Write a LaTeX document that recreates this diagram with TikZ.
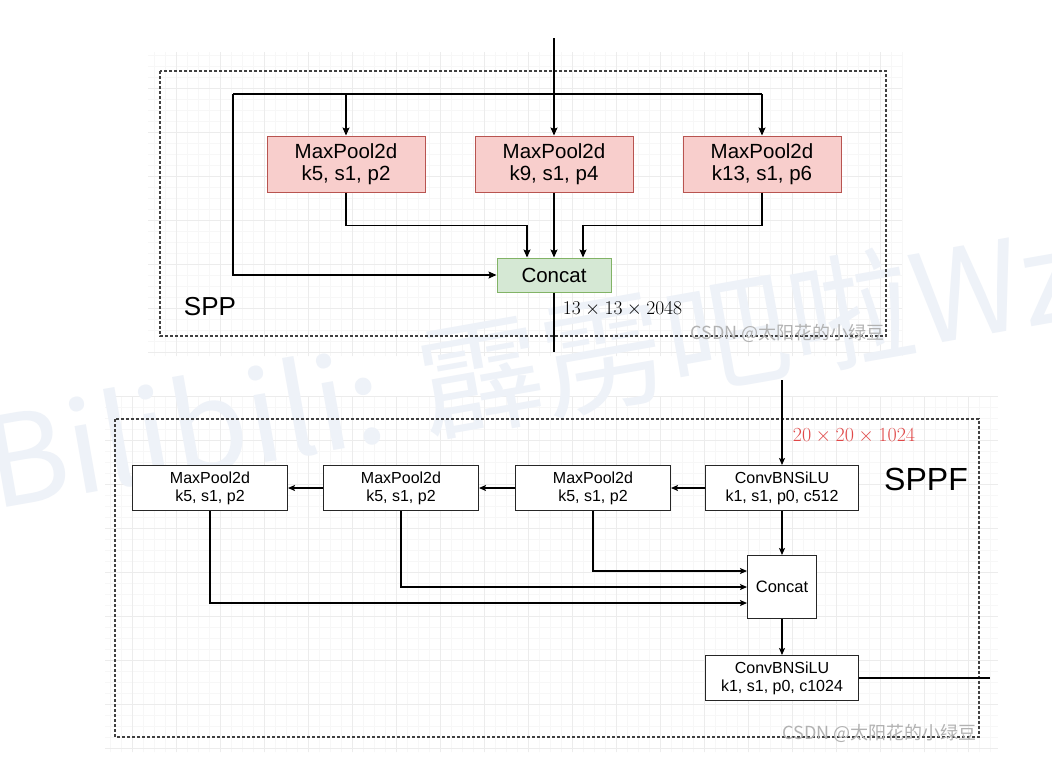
\RequirePackage{fix-cm}
\documentclass[tikz,border=0pt]{standalone}
\usepackage{fontspec}
\setmainfont{Liberation Sans}
\newfontfamily\cjk{Noto Sans CJK SC}
\usepackage{amsmath}
\usepackage{tikz}
\usetikzlibrary{arrows.meta}

\definecolor{poolfill}{HTML}{F8CECC}
\definecolor{poolline}{HTML}{B85450}
\definecolor{catfill}{HTML}{D5E8D4}
\definecolor{catline}{HTML}{82B366}
\definecolor{dimred}{HTML}{E04848}
\definecolor{bilimark}{HTML}{EEF2F8}

\begin{document}
\begin{tikzpicture}[x=1pt,y=-1pt,line width=1.1pt,
  >={Stealth[length=8pt,width=7pt,inset=1.5pt]},
  box/.style={draw=black!85,line width=1pt,fill=white,align=center,inner sep=0pt},
  pool/.style={box,fill=poolfill,draw=poolline,minimum width=158pt,minimum height=56pt,font=\fontsize{20.5}{22}\selectfont},
  fbox/.style={box,minimum width=155pt,minimum height=45pt,font=\fontsize{16}{18}\selectfont},
  frame/.style={draw=black!75,line width=1.2pt,dash pattern=on 3pt off 2pt}]
\useasboundingbox (0,0) rectangle (1052,764);
\fill[white] (0,0) rectangle (1052,764);

% grid
\draw[gray!6,line width=0.5pt,step=11pt] (148,52) grid (902,356);
\draw[gray!15,line width=0.6pt,step=44pt] (148,52) grid (902,356);
\draw[gray!6,line width=0.5pt,step=11pt] (105,396) grid (998,752);
\draw[gray!15,line width=0.6pt,step=44pt] (105,396) grid (998,752);

% watermark
\node[rotate=10,anchor=base west,text=bilimark,inner sep=0pt,
  font=\cjk\fontsize{125}{125}\selectfont] (bili) at (-6,510) {Bilibili: 霹雳吧啦Wz};

%%%% SPP
\draw[frame] (160,71) rectangle (886,336);
\node[pool] (pool5) at (346,164) {MaxPool2d\\k5, s1, p2};
\node[pool] (pool9) at (554,164) {MaxPool2d\\k9, s1, p4};
\node[pool] (pool13) at (762,164) {MaxPool2d\\k13, s1, p6};
\node[box,fill=catfill,draw=catline,minimum width=114pt,minimum height=34pt,
  font=\fontsize{20.5}{22}\selectfont] (sppcat) at (554,275) {Concat};
\coordinate (sppin) at (554,38);
\coordinate (sppout) at (554,352);
\coordinate (split) at (233,94);

\draw[->] (sppin) -- (pool9.north);
\draw (split) -- (pool13.north |- split);
\draw[->] (pool5.north |- split) -- (pool5.north);
\draw[->] (pool13.north |- split) -- (pool13.north);
\draw[->] (split) |- (sppcat.west);
\draw[->] (pool5.south) -- ++(0,33) -| ([xshift=-27pt]sppcat.north);
\draw[->] (pool9.south) -- (sppcat.north);
\draw[->] (pool13.south) -- ++(0,33) -| ([xshift=29pt]sppcat.north);
\draw (sppcat.south) -- (sppout);

\node[font=\fontsize{26}{28}\selectfont] (spptitle) at (210,307) {SPP};
\node[anchor=west,font=\fontsize{19.5}{22}\selectfont] (sppdim) at (559,309) {$13\times13\times2048$};
\node[anchor=east,text=gray!60,inner sep=0pt,font=\cjk\fontsize{18}{18}\selectfont] (csdna) at (885,333) {CSDN @太阳花的小绿豆};

%%%% SPPF
\draw[frame] (115,419) rectangle (979,737);
\node[fbox,minimum width=153pt] (conv1) at (782,488) {ConvBNSiLU\\k1, s1, p0, c512};
\node[fbox] (poola) at (593,488) {MaxPool2d\\k5, s1, p2};
\node[fbox] (poolb) at (401,488) {MaxPool2d\\k5, s1, p2};
\node[fbox] (poolc) at (210,488) {MaxPool2d\\k5, s1, p2};
\node[box,minimum width=69pt,minimum height=63pt,font=\fontsize{16.5}{18}\selectfont] (catf) at (782,587) {Concat};
\node[fbox,minimum width=153pt] (conv2) at (782,678) {ConvBNSiLU\\k1, s1, p0, c1024};
\coordinate (sppfin) at (782,380);
\coordinate (sppfout) at (990,678);

\begin{scope}[>={Stealth[length=7pt,width=6pt,inset=1.5pt]}]
\draw[->] (sppfin) -- (conv1.north);
\draw[->] (conv1.west) -- (poola.east);
\draw[->] (poola.west) -- (poolb.east);
\draw[->] (poolb.west) -- (poolc.east);
\draw[->] (conv1.south) -- (catf.north);
\draw[->] (poola.south) |- ([yshift=16pt]catf.west);
\draw[->] (poolb.south) |- (catf.west);
\draw[->] (poolc.south) |- ([yshift=-16pt]catf.west);
\draw[->] (catf.south) -- (conv2.north);
\end{scope}
\draw (conv2.east) -- (sppfout);

\node[font=\fontsize{32}{34}\selectfont] (sppftitle) at (926,479) {SPPF};
\node[anchor=west,text=dimred,font=\fontsize{20}{22}\selectfont] (sppfdim) at (789,436) {$20\times20\times1024$};
\node[anchor=east,text=gray!60,inner sep=0pt,font=\cjk\fontsize{18}{18}\selectfont] (csdnb) at (977,733) {CSDN @太阳花的小绿豆};
\end{tikzpicture}
\end{document}
